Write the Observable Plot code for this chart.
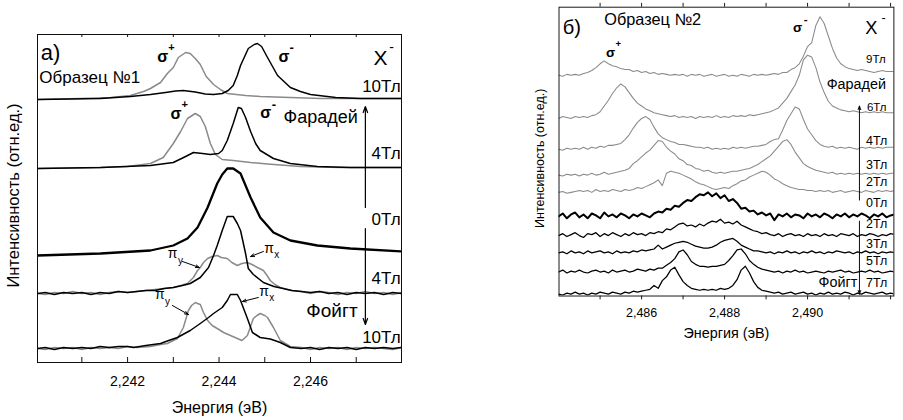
<!DOCTYPE html>
<html><head><meta charset="utf-8">
<script src="https://cdn.jsdelivr.net/npm/d3@7"></script>
<script src="https://cdn.jsdelivr.net/npm/@observablehq/plot@0.6"></script>
<style>
html,body{margin:0;padding:0;background:#fff;overflow:hidden;}
#wrap{position:relative;width:903px;height:420px;overflow:hidden;background:#fff;}
#left{position:absolute;left:0;top:0;}
#right{position:absolute;left:500px;top:0;}
</style></head>
<body><div id="wrap"><div id="left"></div><div id="right"></div></div>
<script>
// ---------- Panel а) : sample 1, [energy eV, intensity a.u.] ----------
const leftOffsets = {F10: 263, F4: 194, Z0: 107, V4: 69, V10: 14};
const a_F10_sp = [[2.24003,0],[2.24097,1],[2.24163,2],[2.24206,4],[2.24235,8],[2.24250,11],[2.24272,17],[2.24287,26],[2.24300,32],[2.24311,42],[2.24327,47],[2.24337,46],[2.24348,41],[2.24359,35],[2.24372,23],[2.24388,15],[2.24403,10],[2.24418,6],[2.24458,4],[2.24490,3],[2.24556,2],[2.24622,1],[2.24799,1]];
const a_F10_sm = [[2.24003,0],[2.24141,1],[2.24206,3],[2.24250,5],[2.24283,7],[2.24305,8.5],[2.24322,9],[2.24348,7.5],[2.24370,5.5],[2.24388,5],[2.24407,6],[2.24420,9],[2.24431,14],[2.24440,24],[2.24447,34],[2.24458,45],[2.24464,51],[2.24477,55],[2.24484,56],[2.24493,53],[2.24506,42],[2.24517,33],[2.24528,24],[2.24556,12],[2.24578,8],[2.24600,5],[2.24655,2],[2.24709,1],[2.24799,1]];
const a_F4_sp = [[2.24003,0],[2.24141,1],[2.24200,2],[2.24250,5],[2.24278,11],[2.24300,25],[2.24316,37],[2.24331,50],[2.24348,55],[2.24359,52],[2.24370,42],[2.24381,25],[2.24392,14],[2.24407,9],[2.24431,8],[2.24469,6],[2.24506,4.5],[2.24578,2],[2.24665,1],[2.24799,1]];
const a_F4_sm = [[2.24003,0],[2.24141,1],[2.24250,3],[2.24300,6],[2.24327,12],[2.24344,16],[2.24364,15],[2.24381,14],[2.24399,15],[2.24407,18],[2.24418,28],[2.24431,45],[2.24442,61],[2.24449,60],[2.24458,51],[2.24469,37],[2.24480,25],[2.24490,18],[2.24519,10],[2.24556,5],[2.24615,2],[2.24687,1],[2.24799,1]];
const a_Z0 = [[2.24003,0],[2.24141,2],[2.24250,5],[2.24300,10],[2.24331,17],[2.24353,28],[2.24375,48],[2.24396,72],[2.24407,81],[2.24418,87],[2.24431,87],[2.24447,82],[2.24469,58],[2.24490,38],[2.24519,23],[2.24556,15],[2.24615,10],[2.24687,7],[2.24799,4]];
const a_V4_px = [[2.24003,0],[2.24020,1],[2.24040,-1],[2.24060,1],[2.24080,0],[2.24100,1],[2.24120,-1],[2.24140,1],[2.24160,0],[2.24180,2],[2.24200,1],[2.24220,2],[2.24240,3],[2.24260,3],[2.24280,5],[2.24300,6],[2.24320,8],[2.24337,10],[2.24359,16],[2.24377,26],[2.24388,38],[2.24396,48],[2.24407,63],[2.24418,77],[2.24431,77],[2.24440,70],[2.24447,63],[2.24458,40],[2.24464,25],[2.24475,19],[2.24497,11],[2.24520,7],[2.24540,5],[2.24560,3],[2.24580,2],[2.24600,1],[2.24620,2],[2.24640,0],[2.24660,1],[2.24680,-1],[2.24700,1],[2.24720,0],[2.24740,1],[2.24760,-1],[2.24780,1],[2.24799,0]];
const a_V4_py = [[2.24003,0],[2.24020,-1],[2.24040,1],[2.24060,0],[2.24080,2],[2.24100,0],[2.24120,1],[2.24140,-1],[2.24160,1],[2.24180,2],[2.24200,1],[2.24220,2],[2.24240,3],[2.24260,4],[2.24280,5],[2.24300,6],[2.24316,8],[2.24331,10],[2.24344,16],[2.24353,23],[2.24359,26],[2.24366,31],[2.24375,35],[2.24385,37],[2.24396,38],[2.24405,36],[2.24418,35],[2.24428,31],[2.24440,28],[2.24450,30],[2.24462,31],[2.24472,29],[2.24484,26],[2.24497,23],[2.24505,18],[2.24512,13],[2.24522,9],[2.24534,6],[2.24556,3],[2.24580,2],[2.24600,0],[2.24620,2],[2.24640,1],[2.24660,-1],[2.24680,1],[2.24700,0],[2.24720,2],[2.24740,0],[2.24760,1],[2.24780,-1],[2.24799,1]];
const a_V10_px = [[2.24003,0],[2.24020,1],[2.24040,-1],[2.24060,1],[2.24080,0],[2.24100,1],[2.24120,0],[2.24140,2],[2.24160,1],[2.24180,2],[2.24200,2],[2.24213,1],[2.24240,3],[2.24272,5],[2.24290,8],[2.24309,11],[2.24337,18],[2.24359,25],[2.24377,31],[2.24388,35],[2.24407,41],[2.24418,48],[2.24425,54],[2.24440,54],[2.24447,48],[2.24462,30],[2.24473,16],[2.24490,11],[2.24512,9.5],[2.24534,6],[2.24556,1],[2.24580,0],[2.24600,1],[2.24620,-1],[2.24640,1],[2.24660,0],[2.24680,1],[2.24700,-1],[2.24720,1],[2.24740,0],[2.24760,1],[2.24780,0],[2.24799,1]];
const a_V10_py = [[2.24003,0],[2.24020,-1],[2.24040,1],[2.24060,0],[2.24080,1],[2.24100,-1],[2.24120,1],[2.24140,0],[2.24160,1],[2.24180,0],[2.24200,2],[2.24220,1],[2.24250,2],[2.24272,4],[2.24287,5],[2.24300,8],[2.24309,10],[2.24322,21],[2.24333,38],[2.24340,43],[2.24348,46],[2.24353,45],[2.24359,44],[2.24366,36],[2.24375,28],[2.24385,23],[2.24396,20],[2.24410,16],[2.24425,13],[2.24440,10],[2.24450,8],[2.24462,13],[2.24475,30],[2.24483,33],[2.24490,35],[2.24500,33],[2.24506,31],[2.24519,21],[2.24534,8],[2.24556,2],[2.24580,1],[2.24600,-1],[2.24620,1],[2.24640,0],[2.24660,1],[2.24680,-1],[2.24700,1],[2.24720,0],[2.24740,1],[2.24760,0],[2.24780,-1],[2.24799,1]];
const leftTicks = [2.241, 2.242, 2.243, 2.244, 2.245, 2.246, 2.247];
const leftTickLabels = [2.242, 2.244, 2.246];

// ---------- Panel б) : sample 2, energies + intensities ----------
const rightEnergies = [2.4840,2.4841,2.4842,2.4843,2.4844,2.4845,2.4846,2.4847,2.4848,2.4849,2.4850,2.4851,2.4852,2.4853,2.4854,2.4855,2.4856,2.4857,2.4858,2.4859,2.4860,2.4861,2.4862,2.4863,2.4864,2.4865,2.4866,2.4867,2.4868,2.4869,2.4870,2.4871,2.4872,2.4873,2.4874,2.4875,2.4876,2.4877,2.4878,2.4879,2.4880,2.4881,2.4882,2.4883,2.4884,2.4885,2.4886,2.4887,2.4888,2.4889,2.4890,2.4891,2.4892,2.4893,2.4894,2.4895,2.4896,2.4897,2.4898,2.4899,2.4900,2.4901,2.4902,2.4903,2.4904,2.4905,2.4906,2.4907,2.4908,2.4909,2.4910,2.4911,2.4912,2.4913,2.4914,2.4915,2.4916,2.4917,2.4918,2.4919,2.4920,2.4921];
const rightOffsets = {F9: 230, F6: 186, F4: 153, F3: 126, F2: 108, Z0: 83, V2: 63, V3: 45, V5: 25, V7: 2};
const b_F9 = [0,-1,1,0,1,0,2,3,5,8, 12,15,12,10,9,7,6,6,4,5, 3,4,2,3,1,2,1,0,1,0, 1,-1,1,0,1,-1,0,1,-1,0, 1,-1,0,-1,1,0,-1,1,0,1, 0,1,2,1,3,3,6,8,12,20, 30,34,52,61,54,41,28,18,12,9, 7,6,5,6,5,4,3,4,5,4, 4,4];
const b_F6 = [-1,1,0,-1,1,0,1,0,2,3, 6,12,18,25,31,35,32,26,20,15, 12,9,7,5,4,3,2,1,2,0, 1,0,1,-1,1,0,1,0,2,0, 1,0,2,1,2,1,3,2,3,4, 5,6,8,10,15,20,27,34,44,60, 65,63,52,37,26,17,12,10,8,7, 6,7,6,5,6,5,6,5,6,5, 5,5];
const b_F4 = [0,-1,1,0,1,0,2,0,2,1, 3,2,4,4,5,6,10,15,22,28, 32,34,31,23,16,12,10,8,7,5, 5,4,3,2,2,1,2,0,1,0, 1,0,2,1,2,1,2,3,3,4, 5,8,10,11,20,30,37,44,42,31, 21,15,9,5,3,2,3,1,2,1, 2,1,0,2,1,2,1,2,1,2, 2,2];
const b_F3 = [0,-1,1,0,1,-1,1,0,2,0, 1,3,1,2,3,4,5,7,12,15, 19,23,26,31,36,35,29,25,22,17, 15,11,10,7,6,4,5,3,2,3, 2,3,4,4,5,6,7,9,11,14, 17,20,25,30,35,37,32,24,18,12, 9,7,5,4,3,2,3,1,2,1, 2,1,2,1,2,1,2,1,2,1, 2,2];
const b_F2 = [0,1,-1,0,1,2,1,2,0,3, 1,2,1,3,2,1,3,2,3,5, 4,6,8,10,13,7,20,22,21,20, 18,16,14,11,9,8,6,4,3,4, 5,4,7,9,12,13,16,18,20,22, 21,18,14,12,9,7,5,4,3,3, 2,2,1,2,1,2,0,1,2,0, 1,2,1,0,2,1,0,2,1,2, 1,2];
const b_Z0 = [0,3,-2,2,4,-1,2,-2,3,1, -2,4,0,2,-1,3,1,-2,2,0, 3,1,-1,3,5,4,8,7,11,10, 14,17,16,20,23,22,25,21,24,19, 22,16,18,14,8,9,5,6,2,4, 1,3,-4,2,0,3,-1,2,1,-2, 3,0,2,-1,3,1,-2,2,0,3, -1,2,0,3,1,-2,2,0,3,-1, 1,2];
const b_V2 = [0,2,-1,1,3,0,-2,2,1,3, -1,2,0,3,1,-1,2,0,3,1, 2,0,3,2,4,3,7,6,9,12, 13,10,11,9,12,10,13,15,14,17, 13,14,12,15,11,9,7,5,4,2, 3,1,0,2,-1,1,2,0,1,-1, 2,0,1,-1,2,0,1,-1,2,1, 0,2,-1,1,0,2,1,-1,1,0, 2,1];
const b_V3 = [0,1,-1,2,0,1,-1,2,0,1, 2,0,1,-1,2,0,1,0,2,1, 3,2,3,4,8,4,6,8,10,11, 12,11,9,7,6,5,5,6,8,11, 13,14,15,12,8,6,4,2,2,1, 0,1,-1,1,0,2,0,1,-1,1, 0,2,0,1,-1,1,0,2,1,0, 1,-1,1,0,2,0,1,-1,1,0, 1,0];
const b_V5 = [0,2,-1,1,0,2,0,-1,1,2, 0,1,-1,2,0,1,2,0,1,3, 2,1,3,2,4,4,7,10,14,21, 23,18,11,8,6,6,5,6,6,7, 8,12,17,23,24,19,12,8,5,3, 2,1,0,1,-1,1,0,2,0,1, -1,0,1,0,-1,1,0,1,2,0, 1,-1,0,1,0,2,0,1,-1,0, 1,0];
const b_V7 = [0,-1,1,0,2,0,1,-1,1,0, 2,1,0,2,1,0,2,1,3,2, 3,4,5,9,6,14,18,25,28,20, 13,9,6,5,4,5,4,5,4,6, 5,6,9,15,25,29,22,13,7,4, 3,2,1,2,0,1,2,0,1,2, 0,1,-1,1,0,2,0,1,0,2, 1,-1,1,0,2,1,0,1,2,0, 1,0];
const rightTicks = [2.485, 2.486, 2.487, 2.488, 2.489, 2.490, 2.491, 2.492];
const rightTickLabels = [2.486, 2.488, 2.490];

// ---------- drawing ----------
const gray = "#8a8a8a";
const font = "'Liberation Sans', Arial, Helvetica, sans-serif";
const fmt = d => d.toFixed(3).replace(".", ",");
const yLabel = "Интенсивность (отн.ед.)";
const xLabel = "Энергия (эВ)";

function T(x, y, text, o = {}) {
  return Plot.text([{x, y, text}], {x: "x", y: "y", text: "text", fontSize: 15, fill: "black",
    textAnchor: "start", lineAnchor: "middle", ...o});
}
function A(x1, y1, x2, y2, o = {}) {
  return Plot.arrow([{x1, y1, x2, y2}], {x1: "x1", y1: "y1", x2: "x2", y2: "y2", stroke: "black",
    strokeWidth: 1, headLength: 6, headAngle: 40, ...o});
}
function pairLine(data, off, o) {
  return Plot.line(data, {x: d => d[0], y: d => d[1] + off, clip: true, strokeLinejoin: "round", ...o});
}
function gridLine(vals, off, o) {
  return Plot.line(vals.map((v, k) => ({e: rightEnergies[k], v: v + off})),
    {x: "e", y: "v", clip: true, strokeLinejoin: "round", ...o});
}

const L = leftOffsets;
const left = Plot.plot({
  width: 430, height: 420, marginLeft: 37, marginRight: 29, marginTop: 34, marginBottom: 58,
  x: {domain: [2.24003, 2.24799], axis: null},
  y: {domain: [0, 328], axis: null},
  style: {fontFamily: font, background: "white", overflow: "visible"},
  marks: [
    pairLine(a_F10_sp, L.F10, {stroke: gray, strokeWidth: 1.5}),
    pairLine(a_F10_sm, L.F10, {stroke: "black", strokeWidth: 1.5}),
    pairLine(a_F4_sp, L.F4, {stroke: gray, strokeWidth: 1.5}),
    pairLine(a_F4_sm, L.F4, {stroke: "black", strokeWidth: 1.5}),
    pairLine(a_Z0, L.Z0, {stroke: "black", strokeWidth: 2.3}),
    pairLine(a_V4_py, L.V4, {stroke: gray, strokeWidth: 1.5}),
    pairLine(a_V4_px, L.V4, {stroke: "black", strokeWidth: 1.5}),
    pairLine(a_V10_py, L.V10, {stroke: gray, strokeWidth: 1.5}),
    pairLine(a_V10_px, L.V10, {stroke: "black", strokeWidth: 1.5}),
    Plot.frame({stroke: "#111", strokeWidth: 1}),
    Plot.tickX(leftTicks, {x: d => d, insetTop: 323, stroke: "#111"}),
    Plot.tickX(leftTicks, {x: d => d, insetBottom: 325, stroke: "#111"}),
    Plot.text(leftTickLabels, {x: d => d, text: fmt, frameAnchor: "bottom", dy: 19, fontSize: 14, lineAnchor: "middle"}),
    Plot.text([xLabel], {text: d => d, frameAnchor: "bottom", dy: 45, fontSize: 16, lineAnchor: "middle"}),
    Plot.text([yLabel], {text: d => d, frameAnchor: "left", textAnchor: "middle", dx: -24, dy: -3, rotate: -90, fontSize: 16.5, lineAnchor: "middle"}),
    T(2.24010, 310, "а)", {fontSize: 22}),
    T(2.24007, 285, "Образец №1", {fontSize: 17}),
    T(2.24265, 306, "σ", {fontSize: 16, fontWeight: "bold"}),
    T(2.24289, 315, "+", {fontSize: 11, fontWeight: "bold"}),
    T(2.24530, 306, "σ", {fontSize: 16, fontWeight: "bold"}),
    T(2.24554, 315, "-", {fontSize: 13, fontWeight: "bold"}),
    T(2.24738, 304, "X", {fontSize: 21}),
    T(2.24772, 315, "-", {fontSize: 14}),
    T(2.24797, 276, "10Тл", {fontSize: 17, textAnchor: "end"}),
    T(2.24294, 249, "σ", {fontSize: 16, fontWeight: "bold"}),
    T(2.24318, 258, "+", {fontSize: 11, fontWeight: "bold"}),
    T(2.24490, 250, "σ", {fontSize: 16, fontWeight: "bold"}),
    T(2.24515, 258, "-", {fontSize: 13, fontWeight: "bold"}),
    T(2.24541, 245, "Фарадей", {fontSize: 18}),
    T(2.24797, 209, "4Тл", {fontSize: 17, textAnchor: "end"}),
    T(2.24797, 143, "0Тл", {fontSize: 17, textAnchor: "end"}),
    T(2.24797, 84, "4Тл", {fontSize: 17, textAnchor: "end"}),
    T(2.24703, 52, "Фойгт", {fontSize: 19, textAnchor: "end"}),
    T(2.24797, 25, "10Тл", {fontSize: 17, textAnchor: "end"}),
    T(2.24288, 109, "π", {fontSize: 14}),
    T(2.24310, 102, "y", {fontSize: 10}),
    T(2.24499, 114, "π", {fontSize: 14}),
    T(2.24521, 108, "x", {fontSize: 10}),
    T(2.24260, 68, "π", {fontSize: 14}),
    T(2.24282, 61, "y", {fontSize: 10}),
    T(2.24488, 71, "π", {fontSize: 14}),
    T(2.24510, 65, "x", {fontSize: 10}),
    A(2.24320, 101, 2.24357, 95),
    A(2.24497, 111, 2.24469, 106),
    A(2.24298, 57, 2.24333, 48),
    A(2.24486, 65, 2.24451, 61),
    A(2.24720, 155, 2.24720, 256, {headLength: 8, strokeWidth: 1.2}),
    A(2.24720, 134, 2.24720, 38, {headLength: 8, strokeWidth: 1.2})
  ]
});
document.getElementById("left").append(left);

const R = rightOffsets;
const right = Plot.plot({
  width: 420, height: 420, marginLeft: 61, marginRight: 10, marginTop: 7, marginBottom: 112,
  x: {domain: [2.48401, 2.49208], axis: null},
  y: {domain: [0, 301], axis: null},
  style: {fontFamily: font, background: "white", overflow: "visible"},
  marks: [
    gridLine(b_F9, R.F9, {stroke: gray, strokeWidth: 1.1}),
    gridLine(b_F6, R.F6, {stroke: gray, strokeWidth: 1.1}),
    gridLine(b_F4, R.F4, {stroke: gray, strokeWidth: 1.1}),
    gridLine(b_F3, R.F3, {stroke: gray, strokeWidth: 1.1}),
    gridLine(b_F2, R.F2, {stroke: gray, strokeWidth: 1.1}),
    gridLine(b_Z0, R.Z0, {stroke: "black", strokeWidth: 2.1}),
    gridLine(b_V2, R.V2, {stroke: "black", strokeWidth: 1.3}),
    gridLine(b_V3, R.V3, {stroke: "black", strokeWidth: 1.3}),
    gridLine(b_V5, R.V5, {stroke: "black", strokeWidth: 1.3}),
    gridLine(b_V7, R.V7, {stroke: "black", strokeWidth: 1.3}),
    Plot.frame({stroke: "#111", strokeWidth: 1}),
    Plot.tickX(rightTicks, {x: d => d, insetTop: 301, insetBottom: -4, stroke: "#111"}),
    Plot.tickX(rightTicks, {x: d => d, insetTop: -4, insetBottom: 301, stroke: "#111"}),
    Plot.text(rightTickLabels, {x: d => d, text: fmt, frameAnchor: "bottom", dy: 18, fontSize: 13, lineAnchor: "middle"}),
    Plot.text([xLabel], {text: d => d, frameAnchor: "bottom", dy: 39, fontSize: 15, lineAnchor: "middle"}),
    Plot.text([yLabel], {text: d => d, frameAnchor: "left", textAnchor: "middle", dx: -20, dy: 7, rotate: -90, fontSize: 13, lineAnchor: "middle"}),
    T(2.48410, 280, "б)", {fontSize: 21}),
    T(2.48510, 288, "Образец №2", {fontSize: 17}),
    T(2.48514, 254, "σ", {fontSize: 14, fontWeight: "bold"}),
    T(2.48537, 263, "+", {fontSize: 10, fontWeight: "bold"}),
    T(2.48965, 280, "σ", {fontSize: 14, fontWeight: "bold"}),
    T(2.48991, 288, "-", {fontSize: 12, fontWeight: "bold"}),
    T(2.49139, 279, "X", {fontSize: 19}),
    T(2.49178, 290, "-", {fontSize: 13}),
    T(2.49141, 247, "9Тл", {fontSize: 12}),
    T(2.49046, 221, "Фарадей", {fontSize: 15}),
    T(2.49143, 197, "6Тл", {fontSize: 12}),
    T(2.49141, 162, "4Тл", {fontSize: 13}),
    T(2.49141, 137, "3Тл", {fontSize: 13}),
    T(2.49141, 119, "2Тл", {fontSize: 13}),
    T(2.49141, 97, "0Тл", {fontSize: 13}),
    T(2.49141, 75, "2Тл", {fontSize: 13}),
    T(2.49141, 54, "3Тл", {fontSize: 13}),
    T(2.49141, 36, "5Тл", {fontSize: 13}),
    T(2.49141, 14, "7Тл", {fontSize: 13}),
    T(2.49120, 14, "Фойгт", {fontSize: 15, textAnchor: "end"}),
    A(2.49125, 100, 2.49125, 198, {headLength: 6}),
    A(2.49125, 78, 2.49125, 2, {headLength: 6})
  ]
});
document.getElementById("right").append(right);
</script>
</body></html>
